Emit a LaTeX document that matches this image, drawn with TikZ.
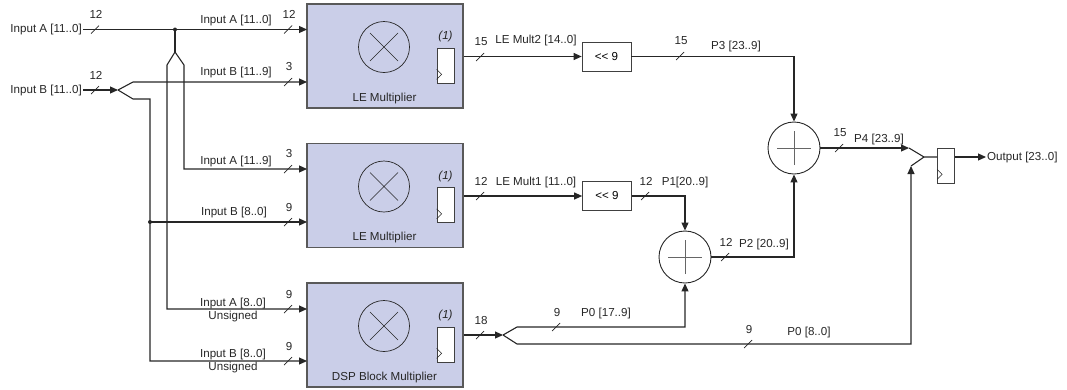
\documentclass[tikz,border=0pt]{standalone}
\usepackage{fontspec}
\setmainfont{Liberation Sans}
\usetikzlibrary{arrows.meta}
\definecolor{multfill}{HTML}{CACEE8}
\definecolor{wire}{HTML}{262626}

\tikzset{
  bus/.style={draw=wire,line width=1.1pt},
  busarrow/.style={bus,-{Triangle[length=8pt,width=7pt]}},
  mult/.style={draw=black!65,fill=multfill,line width=1.2pt,minimum width=156pt,minimum height=104pt,inner sep=0pt},
  mulsym/.style={circle,draw=wire,line width=0.7pt,minimum size=51pt,inner sep=0pt},
  reg/.style={draw=black!75,fill=white,line width=0.7pt,minimum width=17pt,minimum height=35pt,inner sep=0pt},
  shiftbox/.style={draw=black!75,fill=white,line width=0.7pt,minimum width=49pt,minimum height=29pt,inner sep=0pt},
  adder/.style={circle,draw=wire,line width=0.9pt,minimum size=52pt,inner sep=0pt},
  lbl/.style={font=\fontsize{11.6}{13}\selectfont,text=black!85,inner sep=1pt},
}
% bus width mark: x, y, width
\newcommand{\wslash}[3]{%
  \draw[draw=wire,line width=0.7pt] (#1-4,#2+4) -- (#1+4,#2-4);
  \node[lbl] at (#1+1,#2-15) {#3};}

\begin{document}
\begin{tikzpicture}[x=1pt,y=-1pt]
\useasboundingbox (0,0) rectangle (1067,389);

% Multiplier blocks
\foreach \n/\y/\mlabel in {1/56/LE Multiplier,2/195.5/LE Multiplier,3/335/DSP Block Multiplier}{
  \node[mult] (m\n) at (385,\y) {};
  \node[mulsym] (x\n) at (384,\y-9) {};
  \draw[wire,line width=0.6pt] ([shift={(-14pt,14pt)}]x\n.center) -- ([shift={(14pt,-14pt)}]x\n.center)
    ([shift={(-14pt,-14pt)}]x\n.center) -- ([shift={(14pt,14pt)}]x\n.center);
  \node[reg] (r\n) at (445.5,\y+9.5) {};
  \draw[wire,line width=0.5pt] ([yshift=4pt]r\n.south west) -- ([shift={(5pt,9pt)}]r\n.south west) -- ([yshift=14pt]r\n.south west);
  \node[lbl,font=\fontsize{11.6}{13}\selectfont\itshape] (d\n) at ([yshift=11pt]r\n.north) {(1)};
  \node[lbl] (t\n) at (384.5,\y+42) {\mlabel};
}

% Shifters, adders, output register
\node[shiftbox] (sh2) at (606.5,56.5) {\fontsize{11.6}{13}\selectfont <\kern0pt< 9};
\node[shiftbox] (sh1) at (607,196) {\fontsize{11.6}{13}\selectfont <\kern0pt< 9};
\node[adder] (a1) at (794,148) {};
\node[adder] (a2) at (685,257) {};
\foreach \a in {a1,a2}
  \draw[black!60,line width=0.7pt] ([xshift=-17pt]\a.center) -- ([xshift=17pt]\a.center)
    ([yshift=-17pt]\a.center) -- ([yshift=17pt]\a.center);
\node[reg] (oreg) at (946,165.5) {};
\draw[wire,line width=0.5pt] ([yshift=4pt]oreg.south west) -- ([shift={(5pt,9pt)}]oreg.south west) -- ([yshift=14pt]oreg.south west);

% Inputs and output
\node[lbl,anchor=east] (ina) at (83,29.5) {Input A [11..0]};
\node[lbl,anchor=east] (inb) at (83,90) {Input B [11..0]};
\node[lbl,anchor=west] (out) at (986,157) {Output [23..0]};

\coordinate (ja) at (175,29.5);
\coordinate (fa) at (175,52);
\coordinate (fb) at (118,90);
\coordinate (jb) at (150,222);
\coordinate (m1a) at (307,29.5);
\coordinate (m1b) at (307,82);
\coordinate (m2a) at (307,169);
\coordinate (m2b) at (307,222);
\coordinate (m3a) at (307,309);
\coordinate (m3b) at (307,361);
\coordinate (pf) at (503,335);
\coordinate (p4in) at (909,148);
\coordinate (p0in) at (911,166);
\coordinate (mg) at (924,157);

\draw[busarrow] (ina.east) -- (m1a);
\fill[wire] (ja) circle (2pt);
\draw[bus] (ja) -- (fa);
\draw[busarrow] (fa) -- (184,65) |- (m2a);
\draw[busarrow] (fa) -- (167,65) |- (m3a);
\draw[busarrow] (inb.east) -- (fb);
\draw[busarrow] (fb) -- (133,82) -- (m1b);
\draw[busarrow] (fb) -- (133,99) -- (150,99) |- (m3b);
\fill[wire] (jb) circle (2pt);
\draw[busarrow] (jb) -- (m2b);

\draw[busarrow] (m1.east |- sh2) -- (sh2.west);
\draw[busarrow] (sh2.east) -| (a1.north);
\draw[busarrow] (m2.east |- sh1) -- (sh1.west);
\draw[busarrow] (sh1.east) -| (a2.north);
\draw[busarrow] (a2.east) -| (a1.south);
\draw[busarrow] (m3.east |- pf) -- (pf);
\draw[busarrow] (pf) -- ++(14,-8) -| (a2.south);
\draw[busarrow] (pf) -- ++(14,9) -| (p0in);
\draw[busarrow] (a1.east) -- (p4in);
\draw[bus] (p4in) -- (mg) -- (oreg.west |- mg);
\draw[bus] (p0in) -- (mg);
\draw[busarrow] (oreg.east |- mg) -- (out.west);

% Bus labels
\node[lbl] (la1) at (236,20) {Input A [11..0]};
\node[lbl] (lb1) at (236,72) {Input B [11..9]};
\node[lbl] (la2) at (236,161) {Input A [11..9]};
\node[lbl] (lb2) at (234,212) {Input B [8..0]};
\node[lbl,align=center] (la3) at (233,309.5) {Input A [8..0]\\Unsigned};
\node[lbl,align=center] (lb3) at (233,360.5) {Input B [8..0]\\Unsigned};
\node[lbl] (lm2) at (536,40) {LE Mult2 [14..0]};
\node[lbl] (lm1) at (536,182) {LE Mult1 [11..0]};
\node[lbl] (lp3) at (736,46) {P3 [23..9]};
\node[lbl] (lp1) at (685,182) {P1[20..9]};
\node[lbl] (lp2) at (764,244) {P2 [20..9]};
\node[lbl] (lp4) at (879,139) {P4 [23..9]};
\node[lbl] (lp0h) at (606,313) {P0 [17..9]};
\node[lbl] (lp0l) at (809,332) {P0 [8..0]};

\foreach \x/\y/\w in {95/29.5/12,288/29.5/12,95/90/12,288/82/3,288/169/3,288/222/9,288/309/9,288/361/9,480/57/15,480/196/12,480/335/18,680/56/15,645/196/12,556/327/9,748/344/9,839/148/15,725/257/12}
  {\wslash{\x}{\y}{\w}}
\end{tikzpicture}
\end{document}
